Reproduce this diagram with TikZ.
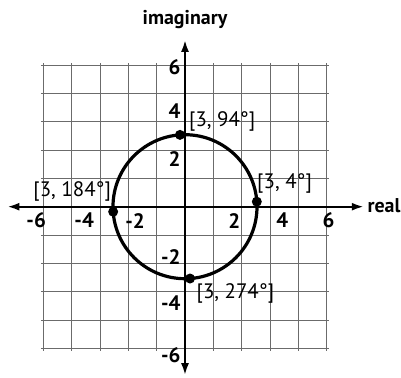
\documentclass[tikz,border=0pt]{standalone}
\usepackage{fontspec}
\setmainfont{PT Sans}
\usetikzlibrary{arrows.meta}
\definecolor{gridgray}{rgb}{0.42,0.42,0.42}
\tikzset{
  gridline/.style={draw=gridgray, line width=0.9bp},
  axisline/.style={draw=black, line width=2.2bp, {Latex[length=12bp,width=8bp]}-{Latex[length=12bp,width=8bp]}},
  curve/.style={draw=black, line width=3.2bp},
  ptdot/.style={circle, fill=black, inner sep=0pt, minimum size=10bp},
  ticklab/.style={font=\fontsize{21}{23}\selectfont\bfseries, inner sep=0pt},
  ptlab/.style={font=\fontsize{21}{23}\selectfont, inner sep=0pt},
  axlab/.style={font=\fontsize{20}{22}\selectfont\bfseries, inner sep=0pt}
}
\begin{document}
\begin{tikzpicture}[x=24bp,y=24bp]
\useasboundingbox (-7.708,-7.096) rectangle (9.0,8.6125);
% grid
\draw[gridline] (-6,-6) grid (6,6);
% axes
\coordinate (xl) at (-7.4,0);
\coordinate (xr) at (7.45,0);
\coordinate (yb) at (0,-7.02);
\coordinate (yt) at (0,6.95);
\draw[axisline] (xl) -- (xr);
\draw[axisline] (yb) -- (yt);
% axis labels
\node[axlab, anchor=west] (real) at (7.6,0.05) {real};
\node[axlab] (imag) at (0,7.8) {imaginary};
% x tick labels
\node[ticklab] (xm6) at (-6.2,-0.58) {-6};
\node[ticklab] (xm4) at (-4.2,-0.58) {-4};
\node[ticklab] (xm2) at (-2.08,-0.58) {-2};
\node[ticklab] (xp2) at (2.05,-0.58) {2};
\node[ticklab] (xp4) at (4.05,-0.58) {4};
\node[ticklab] (xp6) at (5.98,-0.58) {6};
% y tick labels
\node[ticklab, anchor=east] (yp6) at (-0.18,5.8) {6};
\node[ticklab, anchor=east] (yp4) at (-0.18,3.98) {4};
\node[ticklab, anchor=east] (yp2) at (-0.18,1.98) {2};
\node[ticklab, anchor=east] (ym2) at (-0.18,-2.08) {-2};
\node[ticklab, anchor=east] (ym4) at (-0.18,-4.0) {-4};
\node[ticklab, anchor=east] (ym6) at (-0.18,-6.2) {-6};
% circle
\coordinate (O) at (0,0);
\draw[curve] (O) circle [radius=3];
% points
\node[ptdot] (p94) at (94:3) {};
\node[ptdot] (p4) at (4:3) {};
\node[ptdot] (p184) at (184:3) {};
\node[ptdot] (p274) at (274:3) {};
% point labels
\node[ptlab] (l94) at (1.55,3.55) {[3, 94°]};
\node[ptlab] (l4) at (4.15,0.98) {[3, 4°]};
\node[ptlab] (l184) at (-4.7,0.62) {[3, 184°]};
\node[ptlab] (l274) at (2.1,-3.6) {[3, 274°]};
\end{tikzpicture}
\end{document}
